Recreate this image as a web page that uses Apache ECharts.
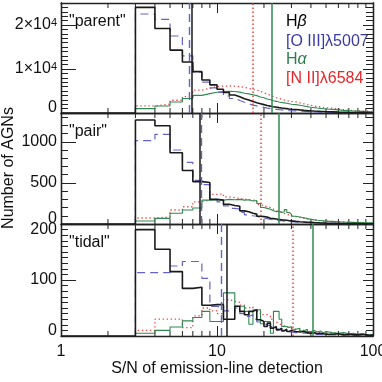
<!DOCTYPE html>
<html>
<head>
<meta charset="utf-8">
<script src="https://cdn.jsdelivr.net/npm/echarts@6/dist/echarts.min.js"></script>
<style>
html, body { margin: 0; padding: 0; background: #fff; }
#chart { width: 382px; height: 382px; }
</style>
</head>
<body>
<div id="chart"></div>
<script>
// S/N bin edges (the last entry closes the final bin)
var binEdges = [3, 4, 5, 6, 7, 8, 9, 10, 11, 12, 13, 14, 15, 16, 17, 18, 19, 20, 21, 22, 23, 24, 25, 26, 27, 28, 29, 30,
  32, 34, 36, 38, 40, 42, 44, 46, 48, 50, 55, 60, 65, 70, 75, 80, 85, 90, 95, 100]
var xTickText = ['1', '10', '100']
var xMinorTicks = [2, 3, 4, 5, 6, 7, 8, 9, 20, 30, 40, 50, 60, 70, 80, 90]
var panelNames = ['"parent"', '"pair"', '"tidal"']
var lineNames = ['Hβ', '[O III]λ5007', 'Hα', '[N II]λ6584']

// "parent"
var hbParent = [24000, 19200, 14300, 11600, 9400, 7500, 6400, 5400, 4650, 4100, 3700, 3250, 2950, 2600, 2350, 2120, 1900, 1700, 1560, 1440, 1330, 1230, 1140, 1060, 990, 920, 860,
  790, 700, 620, 550, 490, 440, 400, 360, 330, 300,
  260, 210, 170, 140, 120, 100, 85, 75, 65, 55]
var o3Parent = [22500, 21300, 17500, 13000, 9300, 7000, 5700, 4700, 3900, 3300, 2850, 2450, 2100, 1800, 1600, 1420, 1260, 1120, 1010, 920, 840, 770, 710, 650, 600, 555, 515,
  470, 410, 360, 320, 285, 255, 230, 205, 185, 165,
  140, 115, 95, 80, 68, 58, 50, 43, 37, 32]
var haParent = [1000, 1600, 2500, 3300, 4000, 4400, 4700, 4900, 4950, 4900, 4750, 4500, 4350, 4150, 3950, 3650, 3450, 3200, 3000, 2800, 2650, 2500, 2400, 2300, 2200, 2100, 2000,
  1900, 1750, 1600, 1450, 1320, 1220, 1130, 1050, 980, 900,
  820, 700, 600, 530, 470, 420, 380, 340, 310, 290]
var n2Parent = [1600, 2000, 2900, 3700, 5200, 5600, 6000, 6100, 6150, 6100, 6000, 5800, 5600, 5400, 5200, 4900, 4600, 4300, 4000, 3750, 3500, 3300, 3100, 2950, 2800, 2700, 2600,
  2500, 2300, 2100, 1900, 1750, 1600, 1480, 1370, 1270, 1180,
  1080, 900, 760, 650, 560, 500, 450, 410, 380, 350]

// "pair"
var hbPair = [1265, 1195, 867, 650, 515, 505, 300, 290, 240, 225, 215, 160, 150, 130, 120, 95, 90, 85, 70, 65, 60, 55, 50, 48, 45, 40, 38,
  32, 28, 25, 22, 20, 17, 15, 13, 12, 11,
  9, 8, 6, 5, 5, 4, 3, 3, 3, 2]
var o3Pair = [1013, 1090, 900, 750, 530, 480, 300, 270, 220, 190, 180, 140, 110, 100, 95, 80, 70, 65, 55, 50, 45, 42, 40, 36, 33, 30, 28,
  25, 22, 20, 17, 15, 13, 12, 10, 9, 8,
  7, 6, 5, 4, 4, 3, 3, 2, 2, 2]
var haPair = [36, 69, 130, 170, 195, 290, 295, 290, 300, 295, 300, 290, 295, 280, 285, 250, 200, 190, 180, 160, 150, 155, 140, 150, 175, 140, 120,
  95, 85, 75, 65, 58, 50, 45, 42, 38, 35,
  32, 28, 25, 22, 20, 18, 17, 16, 15, 14]
var n2Pair = [73, 85, 170, 210, 270, 290, 360, 365, 330, 320, 310, 300, 295, 290, 280, 240, 220, 210, 200, 180, 160, 150, 145, 130, 120, 110, 100,
  90, 80, 70, 62, 55, 50, 45, 40, 37, 34,
  30, 26, 22, 19, 17, 15, 13, 12, 11, 10]

// "tidal"
var hbTidal = [190, 155, 115, 85, 87, 55, 56, 56, 30, 30, 53, 44, 38, 44, 47, 29, 26, 17, 23, 14, 17, 11, 14, 9, 12, 8, 10,
  8, 7, 8, 6, 5, 6, 4, 5, 4, 3,
  3, 4, 2, 3, 2, 2, 3, 2, 1, 2]
var o3Tidal = [113, 113, 125, 133, 133, 103, 53, 50, 45, 42, 50, 40, 35, 38, 30, 25, 22, 20, 18, 15, 14, 12, 10, 10, 8, 8, 7,
  6, 6, 5, 5, 4, 4, 3, 3, 3, 2,
  2, 2, 2, 1, 1, 1, 1, 1, 1, 1]
var haTidal = [5, 10, 16, 27, 33, 44, 26, 26, 77, 77, 53, 53, 44, 21, 47, 47, 22, 26, 26, 5, 44, 44, 30, 17, 17, 15, 17,
  12, 14, 9, 12, 8, 10, 7, 9, 6, 8,
  6, 5, 6, 4, 5, 3, 4, 3, 2, 3]
var n2Tidal = [10, 30, 30, 15, 36, 50, 45, 40, 65, 62, 60, 55, 50, 52, 45, 42, 38, 38, 35, 30, 25, 22, 20, 18, 16, 15, 14,
  12, 10, 10, 9, 8, 7, 7, 6, 6, 5,
  5, 4, 4, 3, 3, 3, 2, 2, 2, 2]

// vertical lines per panel (parent, pair, tidal)
var hbMedian = [6.9, 7.7, 11.6]
var o3Median = [6.6, 7.9, 10.7]
var haMedian = [22.6, 25.0, 41.2]
var n2Median = [17.0, 19.1, 30.4]

var yMax = [25000, 1350, 200]
var yStep = [10000, 500, 100]
var yMinorStep = [1000, 100, 10]
var yTickText = [['0', '1×10^4', '2×10^4'], ['0', '500', '1000'], ['0', '100', '200']]

var FONT = 'Liberation Sans'
var gridBoxes = [{ top: 3, height: 110 }, { top: 113, height: 111 }, { top: 224, height: 112 }]
var lineColors = ['#1a1a1a', '#6464c8', '#2f8a52', '#f03c3c']
var textColors = ['#000', '#3a3aa6', '#2e7d4f', '#e8262a']

function stepData(counts, fromOne) {
  var pts = fromOne ? [[1, 0]] : [[binEdges[0], 0]]
  for (var i = 0; i < counts.length; i++) {
    pts.push([binEdges[i], counts[i]])
  }
  pts.push([binEdges[counts.length], counts[counts.length - 1]])
  return pts
}

function yLabel(p) {
  return function(v) {
    if (v % yStep[p] !== 0) return ''
    var t = yTickText[p][Math.round(v / yStep[p])]
    if (t === undefined) return ''
    if (v === 0) return '{lo|' + t + '}'
    if (v === yMax[p]) return '{hi|' + t + '}'
    var k = t.indexOf('^')
    if (k >= 0) return '{n|' + t.slice(0, k) + '}{e|' + t.slice(k + 1) + '}'
    return '{n|' + t + '}'
  }
}

function minorTickItem(params, api) {
  var x = api.coord([api.value(0), 0])[0]
  var cs = params.coordSys
  var st = { stroke: '#222', lineWidth: 1 }
  return {
    type: 'group',
    children: [
      { type: 'line', shape: { x1: x, y1: cs.y + cs.height, x2: x, y2: cs.y + cs.height - 5 }, style: st },
      { type: 'line', shape: { x1: x, y1: cs.y, x2: x, y2: cs.y + 5 }, style: st }
    ]
  }
}

var grids = []
var xAxes = []
var yAxes = []
var series = []
var graphics = []

var panelData = [
  [hbParent, o3Parent, haParent, n2Parent],
  [hbPair, o3Pair, haPair, n2Pair],
  [hbTidal, o3Tidal, haTidal, n2Tidal]
]
var medians = [hbMedian, o3Median, haMedian, n2Median]

for (var p = 0; p < 3; p++) {
  grids.push({
    left: 61, right: 9, top: gridBoxes[p].top, height: gridBoxes[p].height,
    containLabel: false, outerBoundsMode: 'none'
  })
  var axLine = { show: true, onZero: false, lineStyle: { color: '#222', width: 1.3 } }
  // bottom + top x axes (log)
  xAxes.push({
    type: 'log', logBase: 10, min: 1, max: 100, gridIndex: p, position: 'bottom',
    axisLine: axLine,
    axisTick: { show: true, inside: true, length: 10, lineStyle: { color: '#222' } },
    axisLabel: {
      show: p === 2, margin: 8, color: '#111', fontFamily: FONT, fontSize: 16,
      formatter: function(v) { return xTickText[Math.round(Math.log10(v))] }
    },
    splitLine: { show: false },
    name: p === 2 ? 'S/N of emission-line detection' : '',
    nameLocation: 'middle', nameGap: 24,
    nameTextStyle: { color: '#111', fontFamily: FONT, fontSize: 16 }
  })
  xAxes.push({
    type: 'log', logBase: 10, min: 1, max: 100, gridIndex: p, position: 'top',
    axisLine: axLine,
    axisTick: { show: true, inside: true, length: 10, lineStyle: { color: '#222' } },
    axisLabel: { show: false },
    splitLine: { show: false }
  })
  // left major, left minor, right major, right minor
  var base = { type: 'value', min: 0, max: yMax[p], gridIndex: p, splitLine: { show: false }, axisLine: axLine }
  yAxes.push(Object.assign({}, base, {
    position: 'left', interval: yStep[p],
    axisTick: { show: true, inside: true, length: 15, lineStyle: { color: '#222' } },
    axisLabel: {
      margin: 4, color: '#111', fontFamily: FONT, fontSize: 16,
      formatter: yLabel(p),
      rich: {
        n: { fontFamily: FONT, fontSize: 16, color: '#111' },
        e: { fontFamily: FONT, fontSize: 11, color: '#111', verticalAlign: 'top' },
        lo: { fontFamily: FONT, fontSize: 16, color: '#111', padding: [0, 0, 10, 0] },
        hi: { fontFamily: FONT, fontSize: 16, color: '#111', padding: [12, 0, 0, 0] }
      }
    }
  }))
  yAxes.push(Object.assign({}, base, {
    position: 'left', interval: yMinorStep[p],
    axisTick: { show: true, inside: true, length: 7, lineStyle: { color: '#222' } },
    axisLabel: { show: false }
  }))
  yAxes.push(Object.assign({}, base, {
    position: 'right', interval: yStep[p],
    axisTick: { show: true, inside: true, length: 10, lineStyle: { color: '#222' } },
    axisLabel: { show: false }
  }))
  yAxes.push(Object.assign({}, base, {
    position: 'right', interval: yMinorStep[p],
    axisTick: { show: true, inside: true, length: 7, lineStyle: { color: '#222' } },
    axisLabel: { show: false }
  }))

  series.push({
    type: 'custom', xAxisIndex: 2 * p, yAxisIndex: 4 * p, silent: true,
    renderItem: minorTickItem,
    data: xMinorTicks.map(function(v) { return [v, 0] })
  })

  // draw order: [N II], Ha, [O III], Hb
  var order = [3, 2, 1, 0]
  var styles = [
    { color: lineColors[0], width: 1.6, type: 'solid' },
    { color: lineColors[1], width: 1.2, type: [8, 5] },
    { color: lineColors[2], width: 1.1, type: 'solid' },
    { color: lineColors[3], width: 1.3, type: [1.3, 2.7] }
  ]
  var vStyles = [
    { color: lineColors[0], width: 1.5, type: 'solid' },
    { color: lineColors[1], width: 1.4, type: [8, 5] },
    { color: lineColors[2], width: 1.5, type: 'solid' },
    { color: lineColors[3], width: 1.5, type: [1.5, 2.5] }
  ]
  order.forEach(function(k) {
    series.push({
      name: lineNames[k], type: 'line', step: 'end',
      xAxisIndex: 2 * p, yAxisIndex: 4 * p,
      symbol: 'none', showSymbol: false, silent: true,
      lineStyle: styles[k],
      data: stepData(panelData[p][k], k === 0),
      markLine: {
        silent: true, symbol: ['none', 'none'],
        label: { show: false },
        lineStyle: vStyles[k],
        data: [{ xAxis: medians[k][p] }]
      }
    })
  })

  graphics.push({
    type: 'text', left: 69, top: gridBoxes[p].top + 11,
    style: { text: panelNames[p], font: '16px "' + FONT + '"', fill: '#111' }
  })
}

// y-axis title, rotated, centred on the middle panel
graphics.push({
  type: 'text', x: 9, y: 168, rotation: Math.PI / 2,
  style: {
    text: 'Number of AGNs', font: '16px "' + FONT + '"', fill: '#111',
    align: 'center', verticalAlign: 'middle'
  }
})

var legendTops = [14, 34, 52, 71]
var legendRich = lineNames.map(function(n) {
  if (n.charAt(0) === 'H') return '{n|H}{g|' + n.slice(1) + '}'
  return '{n|' + n + '}'
})
legendRich.forEach(function(t, k) {
  graphics.push({
    type: 'text', left: 286, top: legendTops[k],
    style: {
      text: t, fill: textColors[k], font: '16px "' + FONT + '"',
      rich: {
        n: { fontFamily: FONT, fontSize: 16, fill: textColors[k] },
        g: { fontFamily: FONT, fontSize: 16, fontStyle: 'italic', fill: textColors[k] }
      }
    }
  })
})

var chart = echarts.init(document.getElementById('chart'))
chart.setOption({
  animation: false,
  backgroundColor: '#fff',
  grid: grids,
  xAxis: xAxes,
  yAxis: yAxes,
  series: series,
  graphic: graphics
})
</script>
</body>
</html>
